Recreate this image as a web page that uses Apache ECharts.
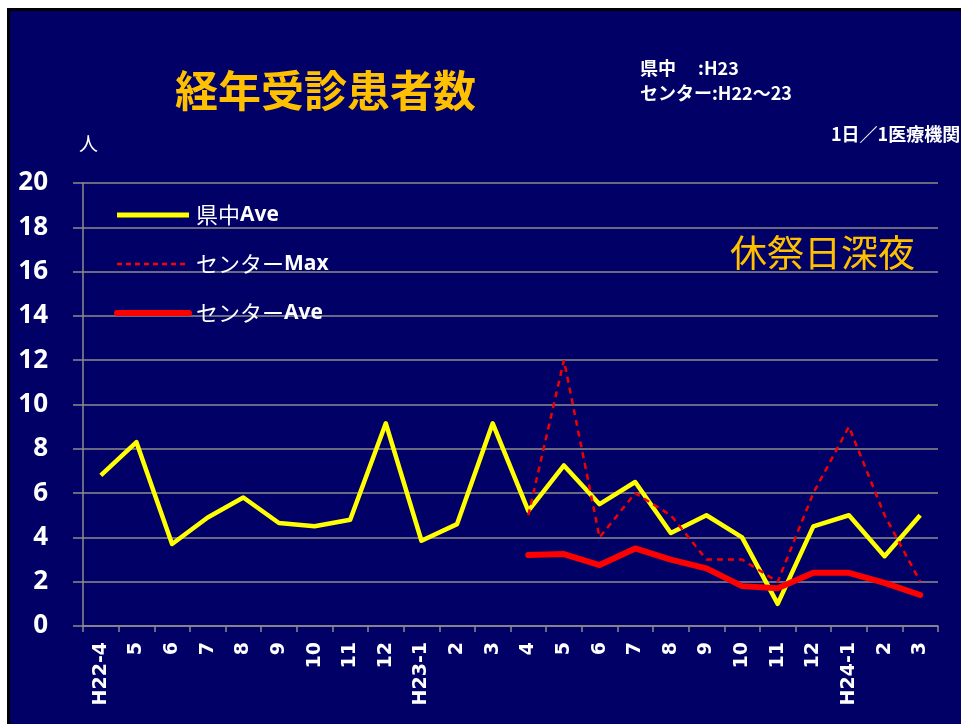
<!DOCTYPE html>
<html>
<head>
<meta charset="utf-8">
<script src="https://cdn.jsdelivr.net/npm/echarts@6/dist/echarts.min.js"></script>
<style>
html,body{margin:0;padding:0;background:#fff;width:961px;height:724px;overflow:hidden;}
#bg{position:absolute;left:7px;top:8px;width:954px;height:716px;background:#000066;border-left:3px solid #000;border-top:3px solid #000;box-sizing:border-box;}
#chart{position:absolute;left:0;top:0;width:961px;height:724px;}
</style>
</head>
<body>
<div id="bg"></div>
<div id="chart"></div>
<script>
const categories = ['H22-4','5','6','7','8','9','10','11','12','H23-1','2','3','4','5','6','7','8','9','10','11','12','H24-1','2','3'];
const kenchuAve = [6.8, 8.3, 3.7, 4.9, 5.8, 4.65, 4.5, 4.8, 9.15, 3.85, 4.6, 9.15, 5.2, 7.25, 5.5, 6.5, 4.2, 5.0, 4.0, 1.0, 4.5, 5.0, 3.15, 5.0];
const centerMax = [null, null, null, null, null, null, null, null, null, null, null, null, 5.0, 12.0, 4.0, 6.0, 5.0, 3.0, 3.0, 2.0, 6.0, 9.0, 5.0, 2.0];
const centerAve = [null, null, null, null, null, null, null, null, null, null, null, null, 3.2, 3.25, 2.75, 3.5, 3.0, 2.6, 1.8, 1.7, 2.4, 2.4, 1.95, 1.4];
const seriesNames = ['県中Ave', 'センターMax', 'センターAve'];
const yTicks = {min: 0, max: 20, interval: 2};

const chart = echarts.init(document.getElementById('chart'), null, {renderer: 'canvas'});
const cjk = '"Noto Sans CJK JP", "Noto Sans", sans-serif';
const latin = '"Open Sans", "Noto Sans", sans-serif';

function legendFmt(name) {
  const m = name.match(/^(.*?)(Ave|Max)$/);
  return '{j|' + m[1] + '}{b|' + m[2] + '}';
}

chart.setOption({
  backgroundColor: 'transparent',
  animation: false,
  title: [
    {text: '経年受診患者数', left: 170, top: 64,
     textStyle: {color: '#FFC000', fontSize: 43, fontWeight: 'bold', fontFamily: cjk}},
    {text: '県中　 :H23', left: 635, top: 54,
     textStyle: {color: '#fff', fontSize: 18, fontWeight: 'bold', fontFamily: cjk}},
    {text: 'センター:H22〜23', left: 635, top: 79,
     textStyle: {color: '#fff', fontSize: 18, fontWeight: 'bold', fontFamily: cjk}},
    {text: '1日／1医療機関', left: 826, top: 120,
     textStyle: {color: '#fff', fontSize: 18, fontWeight: 'bold', fontFamily: cjk}},
    {text: '人', left: 74, top: 129,
     textStyle: {color: '#fff', fontSize: 19, fontWeight: 'normal', fontFamily: cjk}},
    {text: '休祭日深夜', left: 725, top: 229,
     textStyle: {color: '#FFC000', fontSize: 37, fontWeight: 'normal', fontFamily: cjk}}
  ],
  legend: {
    orient: 'vertical',
    left: 114, top: 204,
    padding: 0,
    itemWidth: 72, itemHeight: 14, itemGap: 27,
    itemStyle: {opacity: 0},
    formatter: legendFmt,
    textStyle: {
      color: '#fff', fontSize: 22, lineHeight: 22, padding: [0, 0, 0, 2],
      rich: {
        j: {color: '#fff', fontSize: 22, fontFamily: cjk, fontWeight: 'normal', lineHeight: 22},
        b: {color: '#fff', fontSize: 21, fontFamily: latin, fontWeight: 'bold', lineHeight: 22}
      }
    },
    data: [
      {name: seriesNames[0], lineStyle: {width: 5, color: '#FFFF00'}},
      {name: seriesNames[1], lineStyle: {width: 2.5, color: '#FF0000', type: [5, 4]}},
      {name: seriesNames[2], lineStyle: {width: 6, color: '#FF0000', cap: 'round'}}
    ]
  },
  grid: {left: 83, right: 23, top: 183, bottom: 98, containLabel: false},
  xAxis: {
    type: 'category',
    data: categories,
    boundaryGap: true,
    axisLine: {show: true, lineStyle: {color: '#8c8c8c', width: 1.5}},
    axisTick: {show: true, interval: 0, length: 6, lineStyle: {color: '#8c8c8c', width: 1.5}},
    axisLabel: {interval: 0, rotate: 90, margin: 16, color: '#fff', fontSize: 19,
      fontWeight: 'bold', fontFamily: '"DejaVu Sans", sans-serif'},
    splitLine: {show: false}
  },
  yAxis: {
    type: 'value',
    min: yTicks.min, max: yTicks.max, interval: yTicks.interval,
    axisLine: {show: true, lineStyle: {color: '#8c8c8c', width: 1.5}},
    axisTick: {show: true, length: 10, lineStyle: {color: '#8c8c8c', width: 1.5}},
    axisLabel: {margin: 35, color: '#fff', fontSize: 26, fontWeight: 'bold', fontFamily: latin},
    splitLine: {show: true, lineStyle: {color: '#8c8c8c', width: 1.5}}
  },
  series: [
    {name: seriesNames[0], type: 'line', data: kenchuAve, symbol: 'none',
     lineStyle: {color: '#FFFF00', width: 4.5, join: 'round'}, itemStyle: {color: '#FFFF00'}, z: 2},
    {name: seriesNames[1], type: 'line', data: centerMax, symbol: 'none',
     lineStyle: {color: '#F00000', width: 2.5, type: [6, 5]}, itemStyle: {color: '#F00000'}, z: 3},
    {name: seriesNames[2], type: 'line', data: centerAve, symbol: 'none',
     lineStyle: {color: '#FF0000', width: 6, cap: 'round', join: 'round'}, itemStyle: {color: '#FF0000'}, z: 4}
  ]
});
</script>
</body>
</html>
